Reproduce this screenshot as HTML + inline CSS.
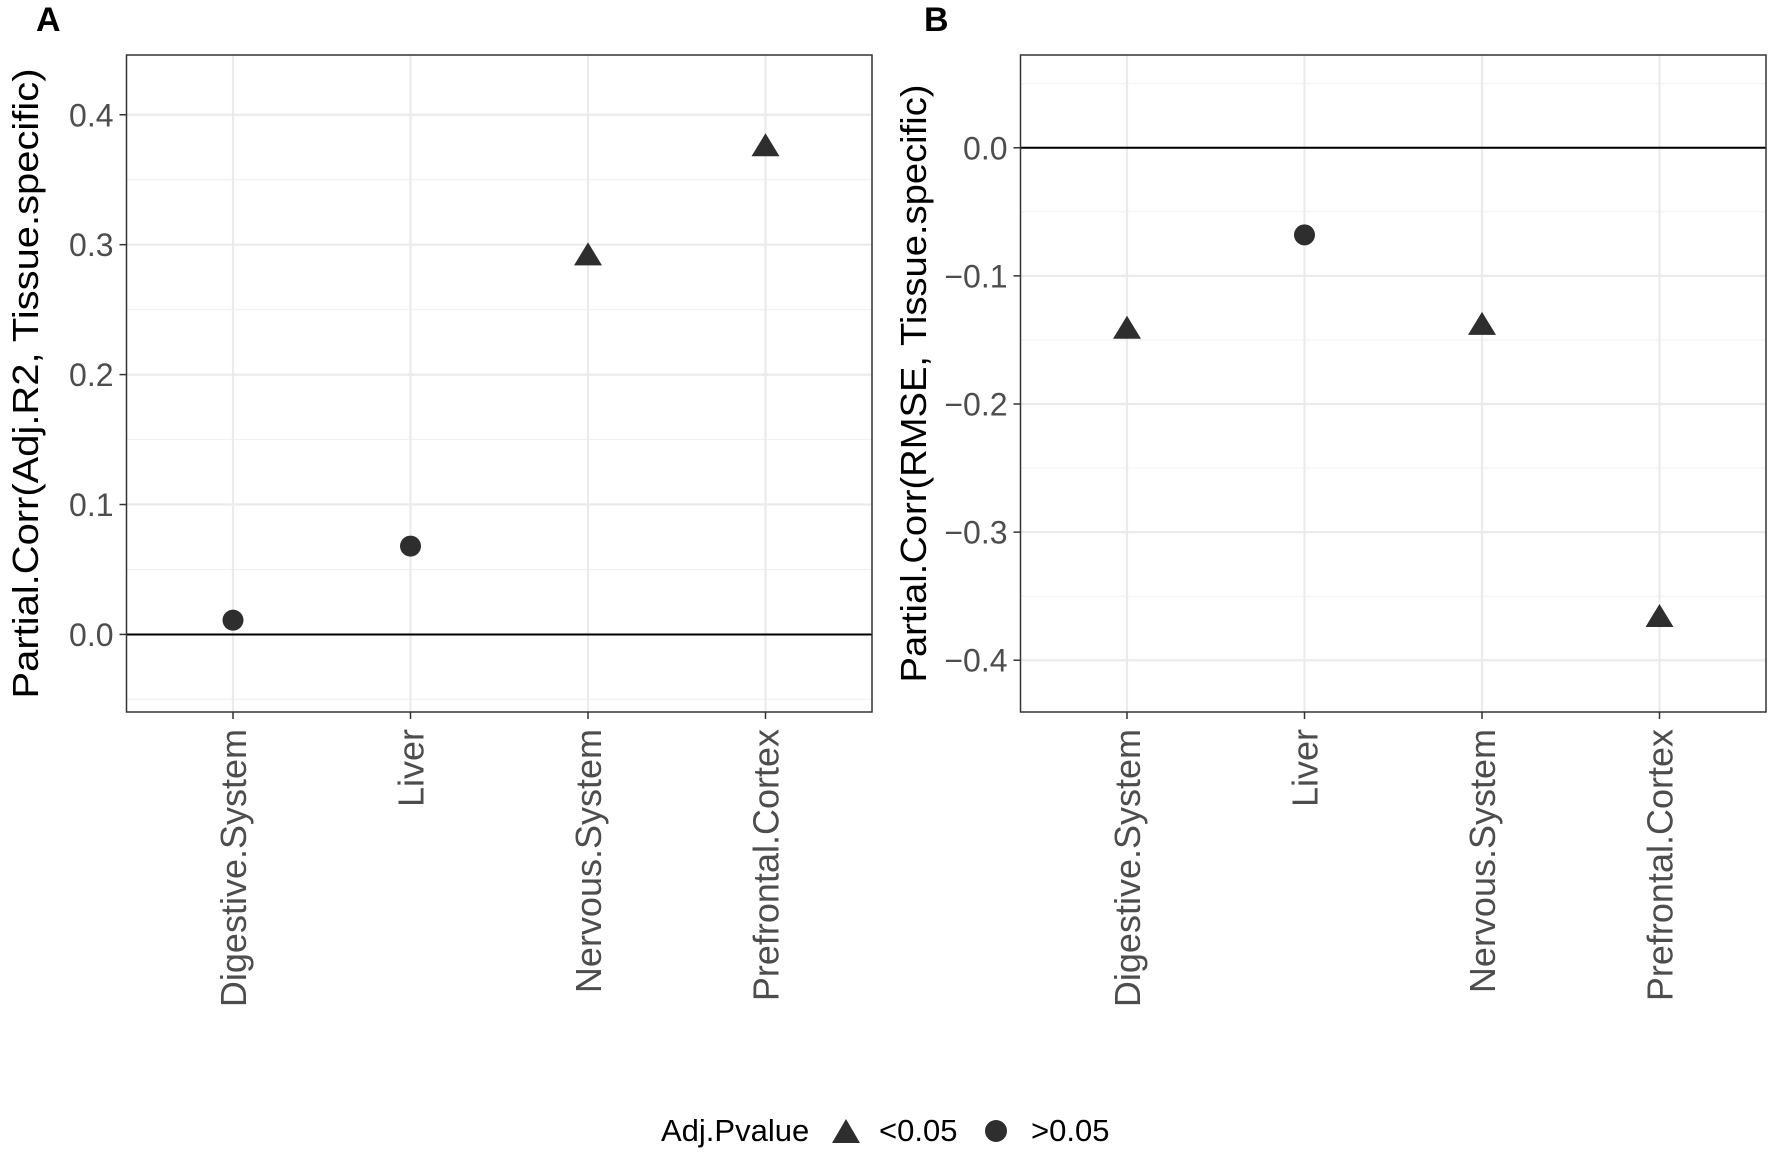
<!DOCTYPE html>
<html><head><meta charset="utf-8"><style>
html,body{margin:0;padding:0;background:#fff;}
svg{display:block;font-family:"Liberation Sans",Arial,sans-serif;}
</style></head><body>
<svg id="chart" width="1772" height="1154" viewBox="0 0 1772 1154" xmlns="http://www.w3.org/2000/svg">
<text x="36" y="31" font-size="34" font-weight="bold">A</text>
<text x="924" y="31" font-size="34" font-weight="bold">B</text>
<g id="pA"></g>
<g id="pB"></g>
<g>
<text x="661" y="1141" font-size="31" fill="#000">Adj.Pvalue</text>
<polygon points="832,1143 846,1119 860,1143" fill="#2e2e2e"/>
<text x="879" y="1141" font-size="31" fill="#000">&lt;0.05</text>
<circle cx="996" cy="1131" r="11" fill="#2e2e2e"/>
<text x="1031" y="1141" font-size="31" fill="#000">&gt;0.05</text>
</g>
</svg>
<script>
const categories = ["Digestive.System","Liver","Nervous.System","Prefrontal.Cortex"];
const valuesA = [0.011, 0.068, 0.291, 0.375];
const signifA = [false, false, true, true];
const valuesB = [-0.142, -0.068, -0.139, -0.367];
const signifB = [true, false, true, true];
const ticksA = [0.0, 0.1, 0.2, 0.3, 0.4];
const tickLabelsA = ["0.0","0.1","0.2","0.3","0.4"];
const ticksB = [0.0, -0.1, -0.2, -0.3, -0.4];
const tickLabelsB = ["0.0","\u22120.1","\u22120.2","\u22120.3","\u22120.4"];
const NS = "http://www.w3.org/2000/svg";
function mk(parent, tag, attrs){
  const e = document.createElementNS(NS, tag);
  for (const k in attrs) e.setAttribute(k, attrs[k]);
  parent.appendChild(e); return e;
}
function panel(gid, cfg){
  const g = document.getElementById(gid);
  const {L,R,T,B,ymin,ymax,vals,sig,ticks,tickLabels,title,titleX,titleLen,prefix} = cfg;
  const y = v => B - (v - ymin) / (ymax - ymin) * (B - T);
  const n = categories.length;
  const step = (R - L) / (n + 0.2);
  const x = i => L + step * (0.6 + i);
  const d = ticks[1]-ticks[0];
  for (let i = 0; i < ticks.length + 1; i++) {
    const v = Math.min(...ticks) - Math.abs(d)/2 + i*Math.abs(d);
    if (v < ymin || v > ymax) continue;
    const l = mk(g,'line',{x1:L,x2:R,y1:y(v),y2:y(v),stroke:'#f1f1f1','stroke-width':1.2});
    
    
  }
  ticks.forEach((v,i)=>{
    const l = mk(g,'line',{x1:L,x2:R,y1:y(v),y2:y(v),stroke:'#ebebeb','stroke-width':2.2});
    
    
    const t = mk(g,'line',{x1:L-7,x2:L,y1:y(v),y2:y(v),stroke:'#333','stroke-width':1.5});
    
    
    const tx = mk(g,'text',{x:L-13,y:y(v)+11.5,'font-size':32,fill:'#4d4d4d','text-anchor':'end'});
    tx.textContent = tickLabels[i];
    
    
  });
  categories.forEach((c,i)=>{
    const l = mk(g,'line',{x1:x(i),x2:x(i),y1:T,y2:B,stroke:'#ebebeb','stroke-width':2.2});
    
    
    const t = mk(g,'line',{x1:x(i),x2:x(i),y1:B,y2:B+7,stroke:'#333','stroke-width':1.5});
    
    
    const tx = mk(g,'text',{x:0,y:0,'font-size':36,fill:'#4d4d4d','text-anchor':'end',
      transform:`translate(${x(i)+13},${B+17}) rotate(-90)`});
    tx.textContent = c;
    
    
  });
  const z = mk(g,'line',{x1:L,x2:R,y1:y(0),y2:y(0),stroke:'#000','stroke-width':2});
  
  
  vals.forEach((v,i)=>{
    const cx = x(i), cy = y(v);
    let m;
    if (sig[i]) {
      m = mk(g,'polygon',{points:`${cx-14},${cy+9} ${cx},${cy-14} ${cx+14},${cy+9}`,fill:'#2e2e2e'});
      
    } else {
      m = mk(g,'circle',{cx:cx,cy:cy,r:10.5,fill:'#2e2e2e'});
      
    }
    
  });
  const bd = mk(g,'rect',{x:L,y:T,width:R-L,height:B-T,fill:'none',stroke:'#333','stroke-width':1.5});
  
  
  const tt = mk(g,'text',{x:0,y:0,'font-size':36,fill:'#000','text-anchor':'middle',textLength:titleLen,lengthAdjust:'spacingAndGlyphs',
    transform:`translate(${titleX},${(T+B)/2}) rotate(-90)`});
  tt.textContent = title;
  
  
}
panel('pA',{L:126.5,R:872,T:55,B:712,ymin:-0.0597,ymax:0.446,vals:valuesA,sig:signifA,
  ticks:ticksA,tickLabels:tickLabelsA,title:"Partial.Corr(Adj.R2,  Tissue.specific)",titleX:38,titleLen:630,prefix:'a-'});
panel('pB',{L:1020.5,R:1766,T:55,B:712,ymin:-0.4404,ymax:0.0724,vals:valuesB,sig:signifB,
  ticks:ticksB,tickLabels:tickLabelsB,title:"Partial.Corr(RMSE,  Tissue.specific)",titleX:926,titleLen:598,prefix:'b-'});
</script>
</body></html>
